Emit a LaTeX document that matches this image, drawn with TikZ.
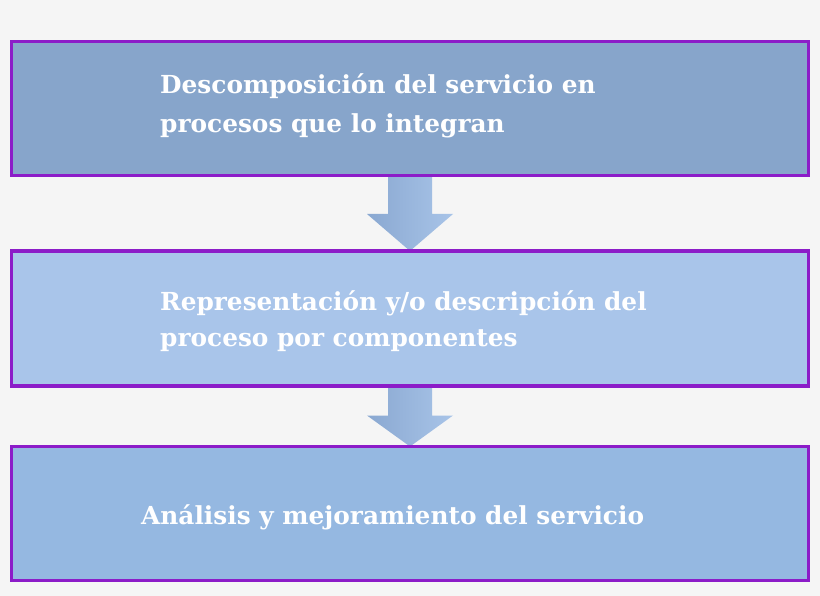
\documentclass[tikz,border=0pt]{standalone}
\usepackage{fontspec}
\setmainfont{DejaVu Serif}
\usetikzlibrary{calc,backgrounds}
\definecolor{bgcol}{HTML}{F5F5F5}
\definecolor{fillA}{HTML}{87A5CB}
\definecolor{fillB}{HTML}{A9C5EA}
\definecolor{fillC}{HTML}{95B8E1}
\definecolor{boxborder}{HTML}{8C1CC8}
\definecolor{arrowL}{HTML}{8AA8D1}
\definecolor{arrowR}{HTML}{A8C4E8}
\begin{document}
\begin{tikzpicture}[x=1pt,y=-1pt,
  box/.style={draw=boxborder, line width=3.2pt, minimum width=797pt, inner sep=0pt, outer sep=0pt},
  lbl/.style={text=white, font=\bfseries\fontsize{24.8}{30}\selectfont, anchor=base west, inner sep=0pt},
  blockarrow/.style={left color=arrowL, right color=arrowR, draw=none}]
\useasboundingbox (0,0) rectangle (820,596);
\node[box, fill=fillA, minimum height=134pt] (b1) at (410,108.5) {};
\node[box, fill=fillB, minimum height=135pt] (b2) at (410,318.5) {};
\node[box, fill=fillC, minimum height=134pt] (b3) at (410,513.5) {};
\begin{scope}[on background layer]
\fill[bgcol] (0,0) rectangle (820,596);
\shade[blockarrow] ($(b1.south)+(-22,0)$) -- ($(b1.south)+(22,0)$) -- ($(b2.north)+(22,-37)$) -- ($(b2.north)+(43,-37)$) -- (b2.north) -- ($(b2.north)+(-43,-37)$) -- ($(b2.north)+(-22,-37)$) -- cycle;
\shade[blockarrow] ($(b2.south)+(-22,0)$) -- ($(b2.south)+(22,0)$) -- ($(b3.north)+(22,-31)$) -- ($(b3.north)+(43,-31)$) -- (b3.north) -- ($(b3.north)+(-43,-31)$) -- ($(b3.north)+(-22,-31)$) -- cycle;
\end{scope}
\node[lbl] (t1a) at (160,94) {Descomposición del servicio en};
\node[lbl] (t1b) at (160,133) {procesos que lo integran};
\node[lbl] (t2a) at (160,311) {Representación y/o descripción del};
\node[lbl] (t2b) at (160,347) {proceso por componentes};
\node[lbl] (t3) at (141,524) {Análisis y mejoramiento del servicio};
\end{tikzpicture}
\end{document}
